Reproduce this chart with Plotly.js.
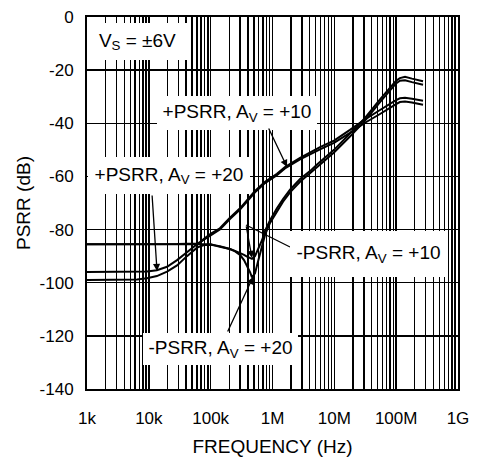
<!DOCTYPE html>
<html>
<head>
<meta charset="utf-8">
<script src="https://cdn.plot.ly/plotly-3.0.1.min.js"></script>
<style>html,body{margin:0;padding:0;background:#fff;}#chart{width:478px;height:460px;}</style>
</head>
<body>
<div id="chart"></div>
<script>
// Frequencies (Hz) and PSRR (dB)
const posAv10F = [1e3, 3.4e3, 1e4, 2.86e4, 6.0e4, 6.7e4, 7.8e4, 1.01e5, 1.41e5, 2.05e5, 2.98e5, 3.87e5, 5.21e5, 7.57e5, 1.18e6, 1.59e6, 2.79e6, 5.87e6, 9.88e6, 1.79e7, 3.14e7, 5.48e7, 7.95e7, 9.96e7, 1.15e8, 1.39e8, 1.80e8, 2.25e8, 2.72e8];
const posAv10 = [-85.5, -85.5, -85.5, -85.4, -85.2, -84.8, -83.5, -81.5, -79.5, -75.5, -72, -69, -65.5, -62, -59, -56.5, -53, -49, -46.5, -42.5, -38.5, -35, -32.5, -31.3, -30.6, -30.4, -30.8, -31.3, -31.5];

const posAv20F = [1e3, 3.4e3, 6.44e3, 9.34e3, 1.35e4, 1.97e4, 2.86e4, 4.14e4, 6.01e4, 7.8e4, 1.01e5, 1.41e5, 2.05e5, 2.98e5, 3.87e5, 5.21e5, 7.57e5, 1.18e6, 1.59e6, 2.79e6, 5.87e6, 9.88e6, 1.79e7, 3.14e7, 5.48e7, 7.95e7, 9.96e7, 1.15e8, 1.39e8, 1.80e8, 2.25e8, 2.72e8];
const posAv20 = [-96, -96, -96, -95.8, -95.3, -94, -91.5, -88.5, -85.5, -83.8, -82, -80, -76, -72.5, -69.5, -66, -62.5, -59.5, -57, -53.6, -49.8, -47.4, -43.6, -39.8, -36.5, -34, -32.8, -32, -31.8, -32.2, -32.7, -33];

const negAv10F = [1e3, 1e4, 4.14e4, 6.7e4, 1.01e5, 1.41e5, 2.05e5, 2.48e5, 2.98e5, 3.46e5, 3.87e5, 4.33e5, 4.66e5, 5.21e5, 5.83e5, 6.77e5, 7.57e5, 9.12e5, 1.18e6, 1.48e6, 1.92e6, 2.79e6, 4.04e6, 5.25e6, 9.88e6, 1.79e7, 3.14e7, 5.48e7, 7.95e7, 9.96e7, 1.15e8, 1.39e8, 1.80e8, 2.25e8, 2.72e8];
const negAv10 = [-85.5, -85.5, -85.5, -85.3, -85.5, -86.5, -87.3, -88, -88.7, -89.5, -90.2, -90.8, -91, -90, -87.5, -84, -80.5, -76.5, -72, -68.5, -65, -61, -58, -55.5, -50, -44, -38, -31, -26.5, -24, -23, -22.5, -23.2, -23.8, -24.2];

const negAv20F = [1e3, 3.4e3, 6.44e3, 9.34e3, 1.35e4, 1.97e4, 2.86e4, 4.14e4, 6.01e4, 7.8e4, 1.01e5, 1.41e5, 2.05e5, 2.48e5, 2.98e5, 3.46e5, 3.87e5, 4.33e5, 4.66e5, 5.21e5, 5.83e5, 6.77e5, 7.57e5, 9.12e5, 1.18e6, 1.48e6, 1.92e6, 2.79e6, 4.04e6, 5.25e6, 9.88e6, 1.79e7, 3.14e7, 5.48e7, 7.95e7, 9.96e7, 1.15e8, 1.39e8, 1.80e8, 2.25e8, 2.72e8];
const negAv20 = [-99, -99, -98.8, -98.3, -97.5, -95.8, -93.5, -90, -86.8, -85.8, -85.7, -86.3, -87.3, -88.2, -89.5, -91.5, -93.5, -96, -98, -96.5, -92, -86, -82, -77.5, -73, -69.5, -66, -62, -58.8, -56.5, -51, -45, -39, -32, -27.5, -25, -24, -23.8, -24.5, -25.2, -25.5];

const decadeVals = [1e3, 1e4, 1e5, 1e6, 1e7, 1e8, 1e9];
const decadeLabels = ["1k", "10k", "100k", "1M", "10M", "100M", "1G"];
const yTicks = [0, -20, -40, -60, -80, -100, -120, -140];
const yTickLabels = ["0", "-20", "-40", "-60", "-80", "-100", "-120", "-140"];

const labelTexts = ["V<sub>S</sub> = ±6V", "+PSRR, A<sub>V</sub> = +10", "+PSRR, A<sub>V</sub> = +20", "-PSRR, A<sub>V</sub> = +10", "-PSRR, A<sub>V</sub> = +20"];

// minor log grid (2..9 per decade)
const minorVals = [];
for (let d = 3; d < 9; d++) {
  for (let m = 2; m <= 9; m++) minorVals.push(m * Math.pow(10, d));
}

const FONT = "Liberation Sans, Arial, Helvetica, sans-serif";
const lineStyle = {color: "#000", width: 2};
const traces = [
  {x: posAv10F, y: posAv10, name: "+PSRR, Av=+10", mode: "lines", line: lineStyle},
  {x: posAv20F, y: posAv20, name: "+PSRR, Av=+20", mode: "lines", line: lineStyle},
  {x: negAv10F, y: negAv10, name: "-PSRR, Av=+10", mode: "lines", line: lineStyle},
  {x: negAv20F, y: negAv20, name: "-PSRR, Av=+20", mode: "lines", line: lineStyle}
];

function box(text, x, y, w, h) {
  return {text: text, xref: "paper", yref: "paper", x: x, y: y, xanchor: "center", yanchor: "middle",
    width: w, height: h, showarrow: false, bgcolor: "#fff", borderpad: 0, borderwidth: 0,
    font: {family: FONT, size: 19, color: "#000"}};
}
function arrow(x, y, ax, ay) {
  return {text: "", xref: "paper", yref: "paper", x: x, y: y, ax: ax, ay: ay, showarrow: true,
    arrowhead: 2, arrowsize: 1.1, arrowwidth: 1.3, arrowcolor: "#000", standoff: 0};
}

const annotations = [
  box(labelTexts[0], 0.1361, 0.9341, 101, 37),
  box(labelTexts[1], 0.4043, 0.7419, 160, 34),
  box(labelTexts[2], 0.2210, 0.5739, 162, 37),
  box(labelTexts[3], 0.7588, 0.3616, 157, 46),
  box(labelTexts[4], 0.3598, 0.1075, 155, 32),
  arrow(0.5391, 0.5968, -19, -40),
  arrow(0.1887, 0.3172, -5, -77),
  arrow(0.4447, 0.3522, -6, -33),
  arrow(0.4474, 0.3011, -26, 56)
];

const layout = {
  width: 478, height: 460,
  margin: {l: 87, r: 20, t: 17, b: 71},
  paper_bgcolor: "#fff", plot_bgcolor: "#fff",
  showlegend: false,
  font: {family: FONT, size: 17, color: "#000"},
  xaxis: {
    type: "log", range: [3, 9], tickmode: "array", tickvals: decadeVals, ticktext: decadeLabels,
    showgrid: true, gridcolor: "#000", gridwidth: 1.4, ticks: "", zeroline: false,
    minor: {tickmode: "array", tickvals: minorVals, showgrid: true, gridcolor: "#000", gridwidth: 1.4, ticks: ""},
    showline: true, linecolor: "#000", linewidth: 2, mirror: true,
    tickfont: {family: FONT, size: 17, color: "#000"}, ticklabelstandoff: 13,
    title: {text: "FREQUENCY (Hz)", font: {family: FONT, size: 19, color: "#000"}, standoff: 12},
    automargin: false, fixedrange: true
  },
  yaxis: {
    range: [-140, 0], tickmode: "array", tickvals: yTicks, ticktext: yTickLabels,
    showgrid: true, gridcolor: "#000", gridwidth: 1.4, ticks: "", zeroline: false,
    showline: true, linecolor: "#000", linewidth: 2, mirror: true,
    tickfont: {family: FONT, size: 17, color: "#000"}, ticklabelstandoff: 8,
    title: {text: "PSRR (dB)", font: {family: FONT, size: 19, color: "#000"}, standoff: 4},
    automargin: false, fixedrange: true
  },
  annotations: annotations,
  shapes: [
    {type: "line", xref: "paper", yref: "paper", x0: 0.5472, y0: 0.3817, x1: 0.4286, y1: 0.4409,
     line: {color: "#000", width: 1.3}, layer: "above"}
  ]
};

Plotly.newPlot("chart", traces, layout, {displayModeBar: false, staticPlot: true});
</script>
</body>
</html>
